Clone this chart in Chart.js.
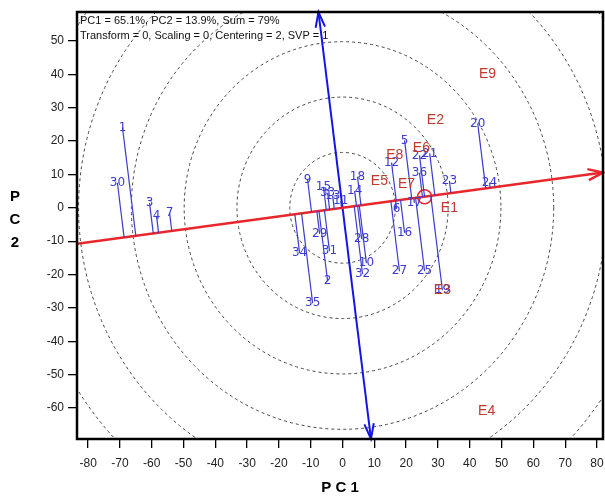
<!DOCTYPE html>
<html><head><meta charset="utf-8">
<script src="https://cdn.jsdelivr.net/npm/chart.js@4"></script>
<style>html,body{margin:0;padding:0;background:#fff}#wrap{width:605px;height:498px}</style>
</head><body><div id="wrap"><canvas id="c" width="605" height="498"></canvas></div>
<script>
const genotypes = ['1','30','3','4','7','9','15','33','13','11','18','14','34','29','31','2','35','28','10','32','27','25','16','6','19','5','12','22','21','36','17','23','20','24'];
const genoPC1 = [-69.2,-70.8,-60.7,-58.5,-54.4,-11.0,-6.0,-4.7,-3.1,-0.6,4.7,3.8,-13.5,-7.2,-4.1,-4.7,-9.4,6.0,7.5,6.3,17.9,25.8,19.5,17.0,31.4,19.5,15.4,24.2,27.4,24.2,22.6,33.6,42.5,46.2];
const genoPC2 = [24.1,7.5,1.5,-2.4,-1.5,8.4,6.3,4.5,3.6,2.1,9.3,5.1,-13.6,-7.8,-13.0,-22.0,-28.6,-9.3,-16.6,-19.9,-19.0,-19.0,-7.5,-0.3,-24.7,20.2,13.6,15.7,16.3,10.5,1.5,8.1,25.3,7.5];
const environments = ['E1','E2','E3','E4','E5','E6','E7','E8','E9'];
const envPC1 = [33.6,29.2,31.4,45.3,11.6,24.8,20.1,16.4,45.6];
const envPC2 = [0.0,26.2,-24.7,-60.8,8.1,17.8,7.2,15.7,40.1];
const avgEnvPC1 = [25.8];
const avgEnvPC2 = [3.3];
const aecSlope = 0.129;
const circleRadii = [16.6,33.2,49.8,66.4,83.0,99.6];
const xTicks = [-80,-70,-60,-50,-40,-30,-20,-10,0,10,20,30,40,50,60,70,80];
const yTicks = [-60,-50,-40,-30,-20,-10,0,10,20,30,40,50];
const xRange = [-83.5, 81.9];
const yRange = [-69.3, 58.7];
const headerLines = ['PC1 = 65.1%, PC2 = 13.9%, Sum = 79%','Transform = 0, Scaling = 0, Centering = 2, SVP = 1'];

const GBLUE = '#3b3bd0', ABLUE = '#1414e6', RED = '#e8262b', ENVRED = '#c0392b';

function proj(x, y){ const t = (x + aecSlope*y)/(1+aecSlope*aecSlope); return {x:t, y:aecSlope*t}; }

const datasets = [];
genotypes.forEach((g,i)=>{
  datasets.push({type:'line', data:[{x:genoPC1[i],y:genoPC2[i]}, proj(genoPC1[i],genoPC2[i])],
    borderColor:GBLUE, borderWidth:1.2, pointRadius:0, fill:false, tension:0});
});
datasets.push({id:'aecx', type:'line', data:[{x:xRange[0],y:aecSlope*xRange[0]},{x:xRange[1],y:aecSlope*xRange[1]}],
  borderColor:RED, borderWidth:2.5, pointRadius:0, fill:false});
datasets.push({id:'aecy', type:'line', data:[{x:-aecSlope*yRange[1],y:yRange[1]},{x:-aecSlope*yRange[0],y:yRange[0]}],
  borderColor:ABLUE, borderWidth:2, pointRadius:0, fill:false});
datasets.push({id:'geno', type:'scatter', data:genotypes.map((g,i)=>({x:genoPC1[i],y:genoPC2[i]})), pointRadius:0});
datasets.push({id:'env', type:'scatter', data:environments.map((e,i)=>({x:envPC1[i],y:envPC2[i]})), pointRadius:0});
datasets.push({id:'aea', type:'scatter', data:avgEnvPC1.map((v,i)=>({x:v,y:avgEnvPC2[i]})), pointRadius:7,
  borderColor:RED, borderWidth:1.5, backgroundColor:'rgba(0,0,0,0)'});

function findMeta(chart, id){
  for (let i=0;i<chart.data.datasets.length;i++){ if (chart.data.datasets[i].id===id) return chart.getDatasetMeta(i); }
}
function arrowHead(ctx, x1,y1,x2,y2,len,ang){
  const a = Math.atan2(y2-y1, x2-x1);
  ctx.beginPath();
  ctx.moveTo(x2 - len*Math.cos(a-ang), y2 - len*Math.sin(a-ang));
  ctx.lineTo(x2,y2);
  ctx.lineTo(x2 - len*Math.cos(a+ang), y2 - len*Math.sin(a+ang));
  ctx.stroke();
}

const biplot = {
  id:'biplot',
  beforeDatasetsDraw(chart){
    const {ctx, chartArea:ca, scales:{x,y}} = chart;
    ctx.save();
    ctx.beginPath(); ctx.rect(ca.left, ca.top, ca.right-ca.left, ca.bottom-ca.top); ctx.clip();
    ctx.strokeStyle = '#444'; ctx.lineWidth = 1; ctx.setLineDash([3,3]);
    const cx = x.getPixelForValue(0), cy = y.getPixelForValue(0);
    circleRadii.forEach(r=>{
      const rx = Math.abs(x.getPixelForValue(r)-cx), ry = Math.abs(y.getPixelForValue(r)-cy);
      ctx.beginPath(); ctx.ellipse(cx, cy, rx, ry, 0, 0, Math.PI*2); ctx.stroke();
    });
    ctx.restore();
  },
  afterDatasetsDraw(chart){
    const {ctx, chartArea:ca} = chart;
    ctx.save();
    const mx = findMeta(chart,'aecx');
    ctx.strokeStyle = RED; ctx.lineWidth = 2.5;
    arrowHead(ctx, mx.data[0].x, mx.data[0].y, mx.data[1].x, mx.data[1].y, 16, 0.35);
    const my = findMeta(chart,'aecy');
    ctx.strokeStyle = ABLUE; ctx.lineWidth = 2;
    arrowHead(ctx, my.data[1].x, my.data[1].y, my.data[0].x, my.data[0].y, 16, 0.3);
    arrowHead(ctx, my.data[0].x, my.data[0].y, my.data[1].x, my.data[1].y, 16, 0.3);
    const mg = findMeta(chart,'geno');
    ctx.font = '12px "DejaVu Sans"'; ctx.fillStyle = GBLUE; ctx.textAlign='center'; ctx.textBaseline='middle';
    mg.data.forEach((p,i)=> ctx.fillText(genotypes[i], p.x, p.y));
    const me = findMeta(chart,'env');
    ctx.font = '14px "Liberation Sans"'; ctx.fillStyle = ENVRED;
    me.data.forEach((p,i)=> ctx.fillText(environments[i], p.x, p.y));
    ctx.strokeStyle = '#000'; ctx.lineWidth = 2.5; ctx.setLineDash([]);
    ctx.strokeRect(ca.left, ca.top, ca.right-ca.left, ca.bottom-ca.top);
    ctx.font = '11px "Liberation Sans"'; ctx.fillStyle = '#111'; ctx.textAlign='left'; ctx.textBaseline='middle';
    ctx.fillText(headerLines[0], ca.left+3, ca.top+9);
    ctx.fillText(headerLines[1], ca.left+3, ca.top+24);
    ctx.font = 'bold 15px "Liberation Sans"'; ctx.fillStyle='#000'; ctx.textAlign='center';
    ctx.fillText('P C 1', (ca.left+ca.right)/2, 488);
    ctx.fillText('P', 15, 197); ctx.fillText('C', 15, 220); ctx.fillText('2', 15, 243);
    ctx.restore();
  }
};

new Chart(document.getElementById('c'), {
  type:'scatter',
  data:{datasets},
  options:{
    responsive:false, animation:false, devicePixelRatio:1,
    layout:{autoPadding:false, padding:{left:0, right:2, top:12, bottom:0}},
    plugins:{legend:{display:false}, tooltip:{enabled:false}},
    scales:{
      x:{type:'linear', min:xRange[0], max:xRange[1],
        afterBuildTicks:s=>{s.ticks = xTicks.map(v=>({value:v}));},
        afterFit:s=>{s.height = 59; s.paddingLeft = 0; s.paddingRight = 0;},
        grid:{drawOnChartArea:false, drawTicks:true, tickLength:9, color:'#000', lineWidth:1.3},
        border:{display:false},
        ticks:{font:{family:'Liberation Sans', size:12}, color:'#222', padding:8, maxRotation:0, autoSkip:false}},
      y:{type:'linear', min:yRange[0], max:yRange[1],
        afterBuildTicks:s=>{s.ticks = yTicks.map(v=>({value:v}));},
        afterFit:s=>{s.width = 77; s.paddingTop = 0; s.paddingBottom = 0;},
        grid:{drawOnChartArea:false, drawTicks:true, tickLength:9, color:'#000', lineWidth:1.3},
        border:{display:false},
        ticks:{font:{family:'Liberation Sans', size:12}, color:'#222', padding:4, autoSkip:false}}
    }
  },
  plugins:[biplot]
});
</script></body></html>
